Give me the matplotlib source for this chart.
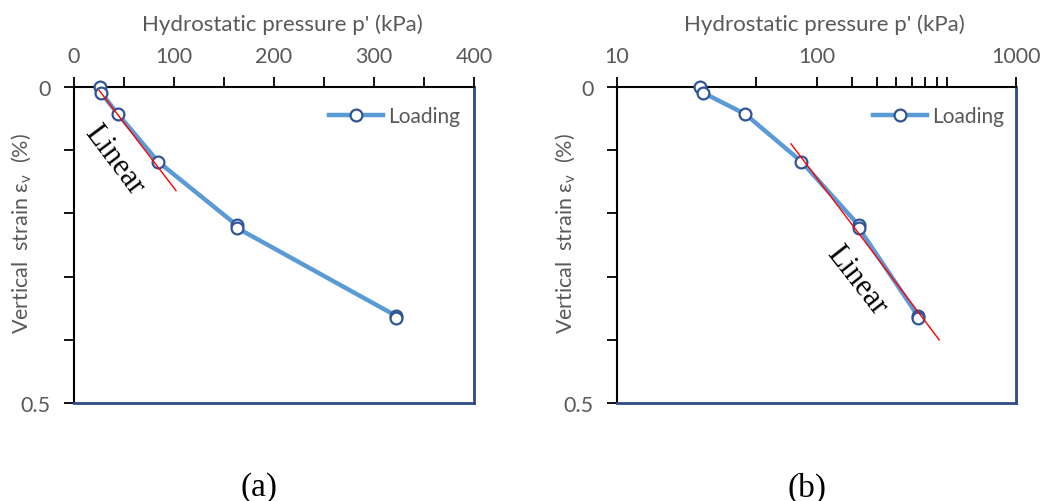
import numpy as np
import matplotlib
matplotlib.use("Agg")
import matplotlib.pyplot as plt
from matplotlib.ticker import FixedLocator, FixedFormatter, NullFormatter

# Hydrostatic loading test: vertical strain vs. effective pressure
pressure_kpa = [26, 27, 44, 84, 163, 163, 322, 322]
strain_pct = [0.0, 0.009, 0.043, 0.118, 0.219, 0.223, 0.362, 0.366]

# Straight-line fits (linear scale and semi-log scale)
fit_lin_p = [25, 102]
fit_lin_e = [0.005, 0.164]
fit_log_p = [74.5, 412]
fit_log_e = [0.090, 0.400]

# Axis ticks
lin_major = [0, 100, 200, 300, 400]
lin_minor = [50, 150, 250, 350]
log_major = [10, 100, 1000]
log_minor = [50, 150, 200, 250, 300, 350, 400, 450]
y_ticks = [0, 0.1, 0.2, 0.3, 0.4, 0.5]
y_labels = ["0", "", "", "", "", "0.5"]

plt.rcParams['font.family'] = ['Lato', 'DejaVu Sans']
plt.rcParams['mathtext.fontset'] = 'custom'
plt.rcParams['mathtext.rm'] = 'Lato'

GREY = '#595959'
LINE = '#5B9BD5'
EDGE = '#2F5597'
FRAME = '#2E4A87'
SERIF = ['Liberation Serif', 'DejaVu Serif']

fig = plt.figure(figsize=(10.45, 5.02), dpi=100)
ax_a = fig.add_axes([74 / 1045, 1 - 404 / 502, 400 / 1045, 316 / 502])
ax_b = fig.add_axes([617 / 1045, 1 - 404 / 502, 399 / 1045, 316 / 502])


def style_axes(ax, legend_x, ylab_x):
    ax.plot(pressure_kpa, strain_pct, color=LINE, lw=3.2, marker='o', ms=8.5,
            mfc='white', mec=EDGE, mew=1.6, label='Loading', zorder=5,
            clip_on=False)
    ax.set_ylim(0.5, 0)
    ax.xaxis.tick_top()
    ax.xaxis.set_label_position('top')
    ax.set_xlabel("Hydrostatic pressure p' (kPa)", fontsize=16, color=GREY)
    ax.xaxis.set_label_coords(0.52, 1.2)
    ax.xaxis.label.set_va('center')
    ax.set_ylabel("Vertical  strain ε$_\\mathregular{v}$  (%)", fontsize=15.5, color=GREY)
    ax.yaxis.set_label_coords(ylab_x, 0.54)
    ax.yaxis.label.set_va('center')
    ax.set_yticks(y_ticks)
    ax.set_yticklabels(y_labels)
    ax.tick_params(axis='both', which='both', direction='out', length=7,
                   width=1.3, color='black', labelcolor=GREY, labelsize=15.5)
    ax.tick_params(axis='x', which='both', pad=8)
    ax.tick_params(axis='y', pad=10)
    for side in ('left', 'top'):
        ax.spines[side].set_color('black')
        ax.spines[side].set_linewidth(1.5)
    for side in ('right', 'bottom'):
        ax.spines[side].set_color(FRAME)
        ax.spines[side].set_linewidth(2)
    ax.legend(loc='center left', bbox_to_anchor=(legend_x, 0.908), frameon=False,
              fontsize=15, labelcolor=GREY, handlelength=2.6, handletextpad=0.25,
              borderpad=0, borderaxespad=0)


# (a) linear pressure axis
style_axes(ax_a, 0.6375, -0.13)
ax_a.set_xlim(0, 400)
ax_a.xaxis.set_major_locator(FixedLocator(lin_major))
ax_a.xaxis.set_minor_locator(FixedLocator(lin_minor))
ax_a.plot(fit_lin_p, fit_lin_e, color='red', lw=1, zorder=6)
ax_a.text(40, 0.115, 'Linear', family=SERIF, fontsize=22, rotation=-53,
          rotation_mode='anchor', ha='center', va='center')

# (b) logarithmic pressure axis
style_axes(ax_b, 0.6416, -0.128)
ax_b.set_xscale('log')
ax_b.set_xlim(10, 1000)
ax_b.xaxis.set_major_locator(FixedLocator(log_major))
ax_b.xaxis.set_major_formatter(FixedFormatter(['10', '100', '1000']))
ax_b.xaxis.set_minor_locator(FixedLocator(log_minor))
ax_b.xaxis.set_minor_formatter(NullFormatter())
ax_b.plot(fit_log_p, fit_log_e, color='red', lw=1, zorder=6)
ax_b.text(158, 0.305, 'Linear', family=SERIF, fontsize=22, rotation=-52,
          rotation_mode='anchor', ha='center', va='center')

fig.text(259 / 1045, 1 - 488 / 502, '(a)', family=SERIF, fontsize=24,
         ha='center', va='center')
fig.text(807 / 1045, 1 - 488 / 502, '(b)', family=SERIF, fontsize=24,
         ha='center', va='center')

fig.savefig('out.png', dpi=100)
